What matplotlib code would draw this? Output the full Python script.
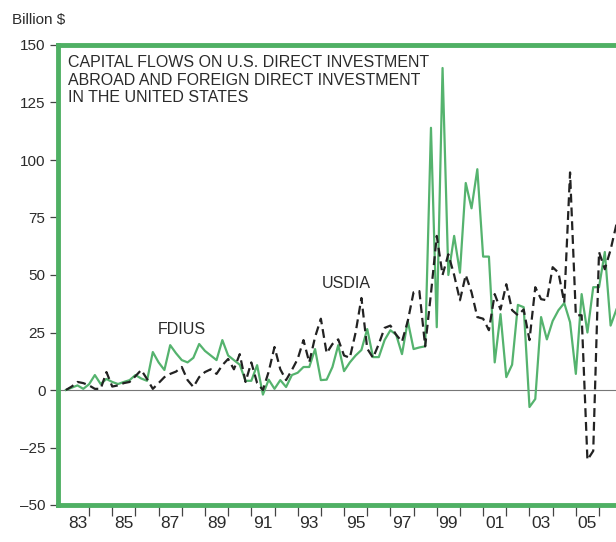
import numpy as np
import matplotlib
matplotlib.use('Agg')
import matplotlib.pyplot as plt
from matplotlib import font_manager

# quarterly flows, billion $, 1983Q1 onward
fdius = [0, 1, 2, 0.5, 2.5, 6.5, 2.6, 4.8, 3.5, 2.6, 3.5, 4.3,
         6.5, 5, 4, 16.5, 12, 8.7, 19.5, 16, 13, 12, 14, 20,
         17, 15, 13, 21.7, 15, 13, 11, 4, 4, 10.8, -2, 4.5,
         0.5, 4.3, 1.3, 6.5, 7.5, 10, 10, 17.8, 4.3, 4.5, 10, 19.5,
         8.2, 12, 15, 17.4, 26.5, 14.3, 14.3, 21.7, 26, 24, 15.6, 30,
         17.8, 18.5, 19, 114, 27.3, 140, 50, 67, 51, 90, 79, 96,
         58, 58, 12, 33, 5.6, 11, 37, 36, -7.4, -3.9, 31.7, 22,
         30, 34.7, 37.8, 29.5, 7, 41.7, 25, 44.7, 44.7, 60, 28, 35]
usdia = [0, 1.5, 3.5, 3, 2, 0.5, 0.5, 7.8, 1.5, 2, 3, 3.5,
         6, 8.7, 4.8, 0.5, 3, 5.6, 7, 8, 10, 4.3, 1.3, 5.6,
         7.8, 9, 7, 10.8, 13.5, 9, 15.6, 3.5, 12, 3, 0, 8,
         18.7, 9, 4.3, 8.7, 13.5, 21.7, 12, 23, 31, 16, 20, 22,
         15, 14, 25, 40, 18, 14, 20, 27, 28, 24, 21, 30,
         42.5, 43, 19, 42, 67, 50, 59, 50, 39, 50, 42.5, 31.7,
         31, 26, 41.7, 35, 46, 34.7, 32.5, 35, 21.7, 44.7, 39.5, 39,
         53.4, 51, 38, 94.6, 32.5, 32.5, -30.4, -26.5, 60, 52.5, 61, 72]
t = 1983 + np.arange(len(fdius)) / 4.0

year_labels = ['83', '85', '87', '89', '91', '93', '95', '97', '99', '01', '03', '05']
label_pos = [1983.5 + 2 * k for k in range(len(year_labels))]
yticks = [150, 125, 100, 75, 50, 25, 0, -25, -50]

title = 'CAPITAL FLOWS ON U.S. DIRECT INVESTMENT\nABROAD AND FOREIGN DIRECT INVESTMENT\nIN THE UNITED STATES'


def pick_font(names):
    for n in names:
        try:
            font_manager.findfont(n, fallback_to_default=False)
            return n
        except Exception:
            pass
    return 'DejaVu Sans'


font = pick_font(['Liberation Sans Narrow', 'Liberation Sans', 'Arial'])
plt.rcParams['font.family'] = [font, 'DejaVu Sans']

green = '#55b36e'
frame_green = '#4fb064'
txt = '#2b2b2b'

W, H = 616, 542
fig = plt.figure(figsize=(W / 100, H / 100), dpi=100)
left, right, top, bottom = 58, 640, 45, 505
ax = fig.add_axes([left / W, (H - bottom) / H, (right - left) / W, (bottom - top) / H])

ax.axhline(0, color='#777777', lw=0.8, zorder=1)
ax.plot(t, fdius, color=green, lw=1.6, zorder=3)
ax.plot(t, usdia, color='#222222', lw=1.6, dashes=(4, 2.2), zorder=4)

ax.set_xlim(1982.66, 1982.66 + (right - left) / 23.18)
ax.set_ylim(-50, 150)

for s in ['left', 'top', 'bottom']:
    ax.spines[s].set_color(frame_green)
    ax.spines[s].set_linewidth(3.5)
ax.spines['right'].set_visible(False)

ax.set_yticks(yticks)
ax.set_yticklabels([str(v).replace('-', '\u2013') for v in yticks])
ax.tick_params(axis='y', direction='out', length=6, width=0.9, color='#444444',
               labelsize=11, labelcolor=txt, pad=3)

ax.set_xticks(np.arange(1984, 2008))
ax.set_xticklabels([])
ax.set_xticks(label_pos, minor=True)
ax.set_xticklabels(year_labels, minor=True)
ax.tick_params(axis='x', which='major', direction='out', length=8, width=0.9, color='#444444')
ax.tick_params(axis='x', which='minor', length=0, labelsize=12.5, labelcolor=txt, pad=8)

ax.text(0.018, 0.978, title, transform=ax.transAxes, ha='left', va='top',
        fontsize=11.5, color=txt, linespacing=1.2)
ax.text(1986.95, 26.5, 'FDIUS', ha='left', va='center', fontsize=11.5, color=txt)
ax.text(1994.03, 46.4, 'USDIA', ha='left', va='center', fontsize=11.5, color=txt)

fig.text(12 / W, 1 - 20 / H, 'Billion $', ha='left', va='center', fontsize=11, color=txt)

fig.savefig('out.png', dpi=100)
